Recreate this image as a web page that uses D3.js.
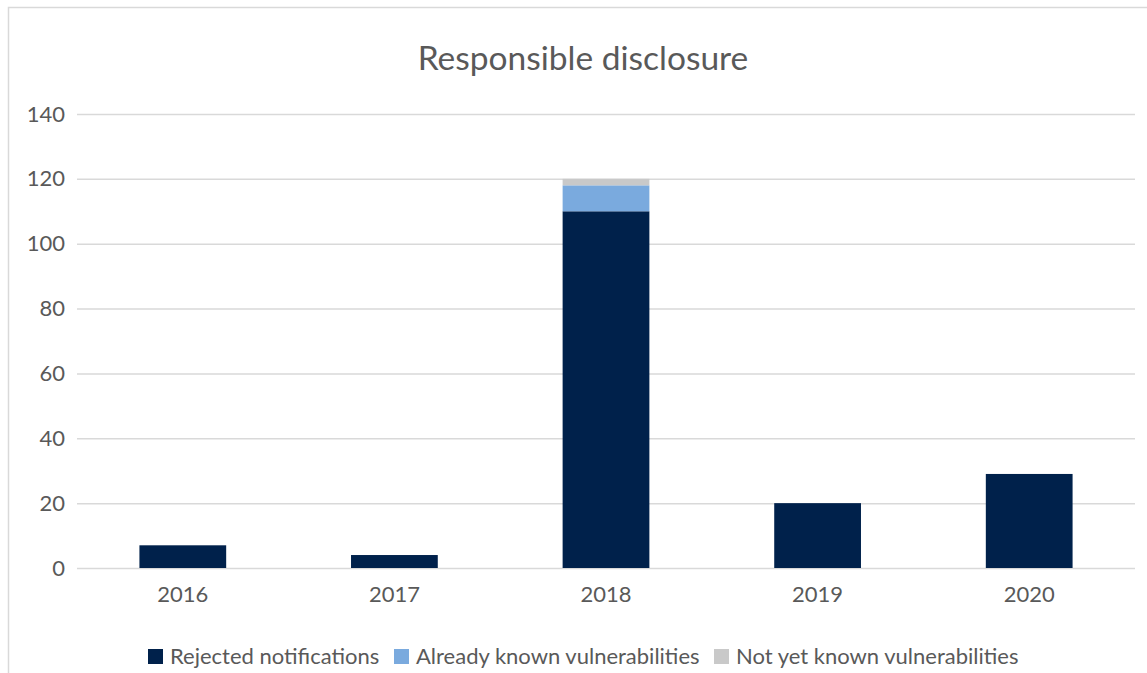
<!DOCTYPE html>
<html>
<head>
<meta charset="utf-8">
<script src="https://cdn.jsdelivr.net/npm/d3@7"></script>
<style>
  body { margin: 0; background: #fff; }
  svg { display: block; font-family: Lato, "Open Sans", sans-serif; }
</style>
</head>
<body>
<div id="chart"></div>
<script>
// chart data
var years = ["2016", "2017", "2018", "2019", "2020"];
var rejected = [7, 4, 110, 20, 29];
var alreadyKnown = [0, 0, 8, 0, 0];
var notYetKnown = [0, 0, 2, 0, 0];
var seriesNames = ["Rejected notifications", "Already known vulnerabilities", "Not yet known vulnerabilities"];
var seriesColors = ["#00214b", "#7aaade", "#c9c9c9"];
var yTicks = [0, 20, 40, 60, 80, 100, 120, 140];

var width = 1147;
var height = 673;
var margin = {top: 114, right: 12, bottom: 105, left: 77};
var fontFam = "Lato, 'Open Sans', sans-serif";

var svg = d3.select("#chart")
  .append("svg")
    .attr("width", width)
    .attr("height", height);

// outer frame (cut off at the right and bottom in the original)
svg.append("rect")
  .attr("x", 8.5)
  .attr("y", 7.5)
  .attr("width", 1160)
  .attr("height", 700)
  .attr("fill", "none")
  .attr("stroke", "#d9d9d9")
  .attr("stroke-width", 1.5);

svg.append("text")
  .attr("x", 583)
  .attr("y", 70)
  .attr("text-anchor", "middle")
  .attr("fill", "#595959")
  .style("font-size", "33.5px")
  .text("Responsible disclosure");

var x = d3.scaleBand()
  .domain(years)
  .range([margin.left, width - margin.right])
  .paddingInner(0.59)
  .paddingOuter(0.295);

var y = d3.scaleLinear()
  .domain([0, 140])
  .range([height - margin.bottom, margin.top]);

// gridlines
svg.append("g")
  .selectAll("line")
  .data(yTicks)
  .join("line")
    .attr("x1", margin.left)
    .attr("x2", width - margin.right)
    .attr("y1", function (d) { return y(d) + 0.5; })
    .attr("y2", function (d) { return y(d) + 0.5; })
    .attr("stroke", "#d9d9d9")
    .attr("stroke-width", 1.5);

// y axis labels
var yAxis = svg.append("g")
  .attr("transform", "translate(" + margin.left + ",0)")
  .call(d3.axisLeft(y).tickValues(yTicks).tickSize(0).tickPadding(12));
yAxis.select(".domain").remove();
yAxis.selectAll("text")
  .attr("fill", "#595959")
  .style("font-size", "22px")
  .style("font-family", fontFam);

// x axis labels
var xAxis = svg.append("g")
  .attr("transform", "translate(0," + y(0) + ")")
  .call(d3.axisBottom(x).tickSize(0).tickPadding(18));
xAxis.select(".domain").remove();
xAxis.selectAll("text")
  .attr("fill", "#595959")
  .style("font-size", "22px")
  .style("font-family", fontFam);

// stacked bars
var rows = years.map(function (yr, i) {
  return {year: yr, s0: rejected[i], s1: alreadyKnown[i], s2: notYetKnown[i]};
});
var stack = d3.stack().keys(["s0", "s1", "s2"]);
var layers = stack(rows);

svg.append("g")
  .selectAll("g")
  .data(layers)
  .join("g")
    .attr("fill", function (d, i) { return seriesColors[i]; })
  .selectAll("rect")
  .data(function (d) { return d; })
  .join("rect")
    .attr("x", function (d) { return x(d.data.year); })
    .attr("width", x.bandwidth())
    .attr("y", function (d) { return y(d[1]); })
    .attr("height", function (d) { return y(d[0]) - y(d[1]); });

// legend
var legendX = [148, 394, 714];
var legend = svg.append("g")
  .selectAll("g")
  .data(seriesNames)
  .join("g")
    .attr("transform", function (d, i) { return "translate(" + legendX[i] + ",649)"; });

legend.append("rect")
  .attr("width", 15)
  .attr("height", 15)
  .attr("fill", function (d, i) { return seriesColors[i]; });

legend.append("text")
  .attr("x", 22)
  .attr("y", 15)
  .attr("fill", "#595959")
  .style("font-size", "22px")
  .text(function (d) { return d; });
</script>
</body>
</html>
